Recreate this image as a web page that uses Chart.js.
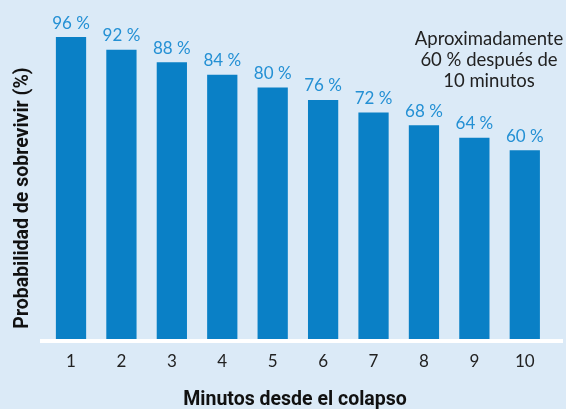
<!DOCTYPE html>
<html><head><meta charset="utf-8">
<script src="https://cdn.jsdelivr.net/npm/chart.js@4"></script>
<style>html,body{margin:0;padding:0;background:#dbeaf7;}#wrap{width:566px;height:409px;}</style>
</head><body><div id="wrap"><canvas id="c" width="566" height="409"></canvas></div>
<script>
const categories = ['1','2','3','4','5','6','7','8','9','10'];
const survival = [96,92,88,84,80,76,72,68,64,60];
const valueLabels = ['96 %','92 %','88 %','84 %','80 %','76 %','72 %','68 %','64 %','60 %'];
const noteLines = ['Aproximadamente','60 % después de','10 minutos'];
const xTitle = 'Minutos desde el colapso';
const yTitle = 'Probabilidad de sobrevivir (%)';

const bgPlugin = {
  id:'bg',
  beforeDraw(chart){
    const ctx=chart.ctx; ctx.save(); ctx.fillStyle='#dbeaf7'; ctx.fillRect(0,0,chart.width,chart.height); ctx.restore();
  }
};
const axisLine = {
  id:'axisLine',
  afterDatasetsDraw(chart){
    const ctx=chart.ctx, y=chart.scales.y.getPixelForValue(0);
    ctx.save(); ctx.fillStyle='#ffffff'; ctx.fillRect(40,y,523,4); ctx.restore();
  }
};
const textPlugin = {
  id:'texts',
  afterDatasetsDraw(chart){
    const ctx=chart.ctx, meta=chart.getDatasetMeta(0);
    ctx.save(); ctx.font='17px Lato'; ctx.fillStyle='#2490d4'; ctx.textAlign='center'; ctx.textBaseline='alphabetic';
    meta.data.forEach((b,i)=>{ ctx.fillText(valueLabels[i], b.x, b.y-8.5); });
    ctx.fillStyle='#222222'; ctx.font='18.5px Lato';
    noteLines.forEach((t,i)=>{ ctx.fillText(t, 489, 45+i*21); });
    ctx.fillStyle='#111111'; ctx.font='bold 19.5px Roboto';
    ctx.fillText(xTitle, 295, 405);
    ctx.translate(28,198); ctx.rotate(-Math.PI/2);
    ctx.fillText(yTitle, 0, 0);
    ctx.restore();
  }
};
new Chart(document.getElementById('c'),{
  type:'bar',
  data:{labels:categories,datasets:[{data:survival,backgroundColor:'#0a80c6',barPercentage:0.6,categoryPercentage:1.0}]},
  options:{
    responsive:false,animation:false,
    layout:{padding:{left:0,right:16,top:24.5,bottom:0}},
    plugins:{legend:{display:false},tooltip:{enabled:false}},
    scales:{
      x:{grid:{display:false,drawTicks:false},border:{display:false},
         ticks:{color:'#222222',font:{family:'Lato',size:17},padding:12},
         afterFit(s){s.height=70;}},
      y:{min:0,max:100,grid:{display:false},border:{display:false},ticks:{display:false},
         afterFit(s){s.width=45.8;}}
    }
  },
  plugins:[bgPlugin,axisLine,textPlugin]
});
</script></body></html>
